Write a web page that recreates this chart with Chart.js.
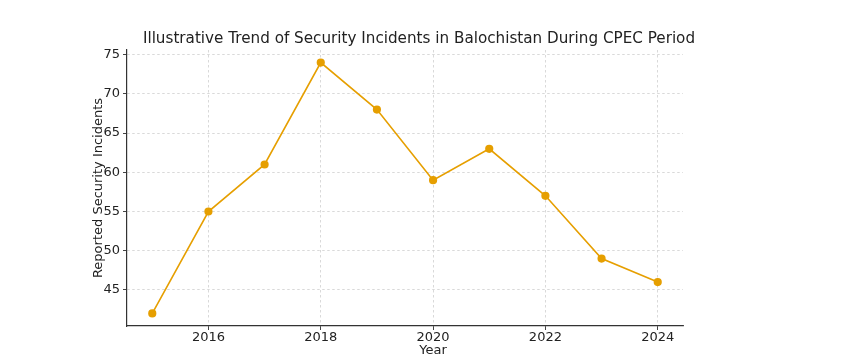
<!DOCTYPE html>
<html>
<head>
<meta charset="utf-8">
<script src="https://cdn.jsdelivr.net/npm/chart.js@4"></script>
<style>
  body { margin: 0; background: #fff; }
  canvas { display: block; }
</style>
</head>
<body>
<canvas id="lineChart" width="845" height="363"></canvas>
<script>
const years = [2015, 2016, 2017, 2018, 2019, 2020, 2021, 2022, 2023, 2024];
const incidents = [42, 55, 61, 74, 68, 59, 63, 57, 49, 46];
const xTicks = [2016, 2018, 2020, 2022, 2024];
const yTicks = [45, 50, 55, 60, 65, 70, 75];

const chartTitle = 'Illustrative Trend of Security Incidents in Balochistan During CPEC Period';
const xLabel = 'Year';
const yLabel = 'Reported Security Incidents';

const textColor = '#222222';
const fontFamily = '"DejaVu Sans", sans-serif';

// title and axis titles, placed like the matplotlib original
const labelsPlugin = {
  id: 'labelsPlugin',
  afterDraw(chart) {
    const { ctx, chartArea } = chart;
    ctx.save();
    ctx.fillStyle = textColor;
    ctx.textAlign = 'center';
    ctx.textBaseline = 'middle';
    ctx.font = '15.2px ' + fontFamily;
    ctx.fillText(chartTitle, 419, 39);
    ctx.font = '13px ' + fontFamily;
    ctx.fillText(xLabel, 433, 351);
    ctx.translate(98.5, (chartArea.top + chartArea.bottom) / 2);
    ctx.rotate(-Math.PI / 2);
    ctx.fillText(yLabel, 0, 0);
    ctx.restore();
  }
};

const gridOpts = {
  color: '#cfcfcf',
  lineWidth: 0.8,
  tickColor: '#444',
  tickLength: 4,
  tickBorderDash: [],
  tickWidth: 1
};
const borderOpts = { display: true, color: '#333', width: 1.2, dash: [2.5, 2.5] };

const ctx = document.getElementById('lineChart').getContext('2d');
new Chart(ctx, {
  type: 'line',
  data: {
    datasets: [{
      data: years.map((y, i) => ({ x: y, y: incidents[i] })),
      borderColor: '#E69F00',
      backgroundColor: '#E69F00',
      borderWidth: 1.6,
      pointRadius: 3.3,
      pointHoverRadius: 3.3,
      tension: 0
    }]
  },
  options: {
    responsive: false,
    animation: false,
    layout: { padding: { top: 50, right: 162, left: 0, bottom: 0 } },
    plugins: {
      legend: { display: false },
      tooltip: { enabled: false },
      title: { display: false }
    },
    scales: {
      x: {
        type: 'linear',
        min: 2014.55,
        max: 2024.45,
        afterBuildTicks(scale) { scale.ticks = xTicks.map(v => ({ value: v })); },
        afterFit(scale) { scale.height = 37; },
        ticks: {
          color: textColor,
          font: { family: fontFamily, size: 13 },
          padding: 0,
          maxRotation: 0,
          callback: v => String(v)
        },
        grid: gridOpts,
        border: borderOpts
      },
      y: {
        min: 40.4,
        max: 75.6,
        afterBuildTicks(scale) { scale.ticks = yTicks.map(v => ({ value: v })); },
        afterFit(scale) { scale.width = 127; },
        ticks: {
          color: textColor,
          font: { family: fontFamily, size: 13 },
          padding: 3
        },
        grid: gridOpts,
        border: borderOpts
      }
    }
  },
  plugins: [labelsPlugin]
});
</script>
</body>
</html>
